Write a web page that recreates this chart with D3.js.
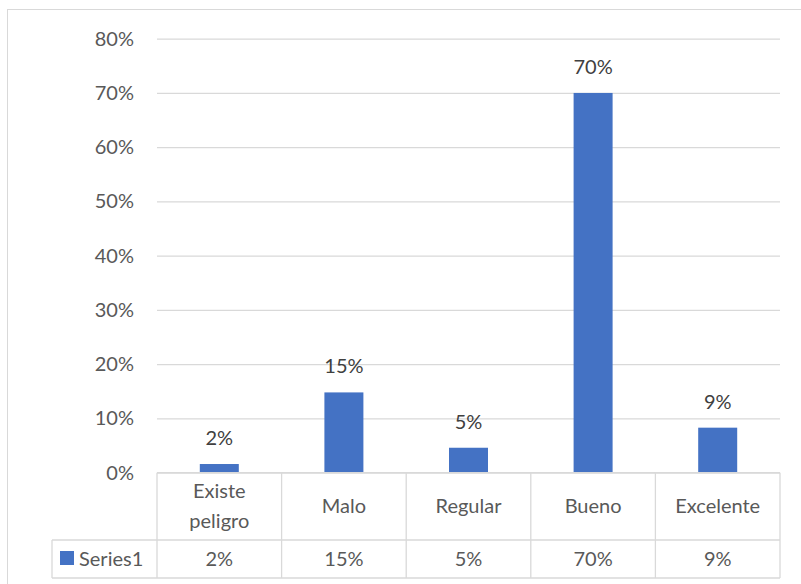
<!DOCTYPE html>
<html>
<head>
<meta charset="utf-8">
<script src="https://cdn.jsdelivr.net/npm/d3@7"></script>
<style>
  body { margin: 0; background: #fff; }
  svg text { font-family: Lato, "Open Sans", sans-serif; }
</style>
</head>
<body>
<div id="chart"></div>
<script>
// data
const categories = [["Existe", "peligro"], ["Malo"], ["Regular"], ["Bueno"], ["Excelente"]];
const values = [0.016, 0.148, 0.046, 0.70, 0.083];
const valueLabels = ["2%", "15%", "5%", "70%", "9%"];
const seriesName = "Series1";
const yTicks = [0, 0.1, 0.2, 0.3, 0.4, 0.5, 0.6, 0.7, 0.8];

const width = 801, height = 584;
const plot = { left: 157, right: 780, top: 38.7, bottom: 472.7 };
const rowMid = 540, rowBottom = 578, tableLeft = 52;
const gridColor = "#d9d9d9", textColor = "#595959", barColor = "#4472c4";
const fs = "20px";

const svg = d3.select("#chart").append("svg")
  .attr("width", width).attr("height", height);

// chart frame
svg.append("rect")
  .attr("x", 7.5).attr("y", 9.5)
  .attr("width", 800).attr("height", 590)
  .attr("fill", "none").attr("stroke", gridColor);

const x = d3.scaleBand()
  .domain(d3.range(categories.length))
  .range([plot.left, plot.right])
  .paddingInner(0).paddingOuter(0);

const y = d3.scaleLinear()
  .domain([0, 0.8])
  .range([plot.bottom, plot.top]);

// gridlines + tick labels
const yAxis = svg.append("g")
  .attr("transform", `translate(${plot.left},0)`)
  .call(d3.axisLeft(y).tickValues(yTicks).tickFormat(d3.format(".0%"))
    .tickSize(-(plot.right - plot.left)).tickPadding(23));
yAxis.select(".domain").remove();
yAxis.selectAll(".tick line").attr("stroke", gridColor).attr("stroke-width", 1.3);
yAxis.selectAll(".tick text")
  .attr("fill", textColor)
  .attr("font-size", fs);

// bars
const barW = x.bandwidth() * 0.313;
svg.append("g")
  .selectAll("rect")
  .data(values)
  .join("rect")
  .attr("x", (d, i) => x(i) + x.bandwidth() / 2 - barW / 2)
  .attr("y", d => y(d))
  .attr("width", barW)
  .attr("height", d => y(0) - y(d))
  .attr("fill", barColor);

// data labels
svg.append("g")
  .selectAll("text")
  .data(values)
  .join("text")
  .attr("x", (d, i) => x(i) + x.bandwidth() / 2)
  .attr("y", d => y(d) - 19)
  .attr("text-anchor", "middle")
  .attr("fill", "#404040")
  .attr("font-size", fs)
  .text((d, i) => valueLabels[i]);

// data table lines
const tbl = svg.append("g").attr("stroke", gridColor).attr("stroke-width", 1.3);
tbl.append("line").attr("x1", plot.left).attr("x2", plot.right)
  .attr("y1", plot.bottom).attr("y2", plot.bottom);
tbl.append("line").attr("x1", tableLeft).attr("x2", plot.right)
  .attr("y1", rowMid).attr("y2", rowMid);
tbl.append("line").attr("x1", tableLeft).attr("x2", plot.right)
  .attr("y1", rowBottom).attr("y2", rowBottom);
tbl.append("line").attr("x1", tableLeft).attr("x2", tableLeft)
  .attr("y1", rowMid).attr("y2", rowBottom);
const edges = d3.range(categories.length).map(i => x(i)).concat([plot.right]);
tbl.selectAll(".v").data(edges).join("line")
  .attr("x1", d => d).attr("x2", d => d)
  .attr("y1", plot.bottom).attr("y2", rowBottom);

// category labels
const catG = svg.append("g");
categories.forEach((lines, i) => {
  const cx = x(i) + x.bandwidth() / 2;
  const mid = (plot.bottom + rowMid) / 2;
  const lh = 30;
  lines.forEach((t, j) => {
    catG.append("text")
      .attr("x", cx)
      .attr("y", mid + (j - (lines.length - 1) / 2) * lh)
      .attr("dy", "0.35em")
      .attr("text-anchor", "middle")
      .attr("fill", textColor)
      .attr("font-size", fs)
      .text(t);
  });
});

// value row
svg.append("g")
  .selectAll("text")
  .data(valueLabels)
  .join("text")
  .attr("x", (d, i) => x(i) + x.bandwidth() / 2)
  .attr("y", (rowMid + rowBottom) / 2)
  .attr("dy", "0.35em")
  .attr("text-anchor", "middle")
  .attr("fill", textColor)
  .attr("font-size", fs)
  .text(d => d);

// legend key in table
svg.append("rect")
  .attr("x", 60).attr("y", 551)
  .attr("width", 14).attr("height", 14)
  .attr("fill", barColor);
svg.append("text")
  .attr("x", 79).attr("y", (rowMid + rowBottom) / 2)
  .attr("dy", "0.35em")
  .attr("fill", textColor)
  .attr("font-size", fs)
  .text(seriesName);
</script>
</body>
</html>
